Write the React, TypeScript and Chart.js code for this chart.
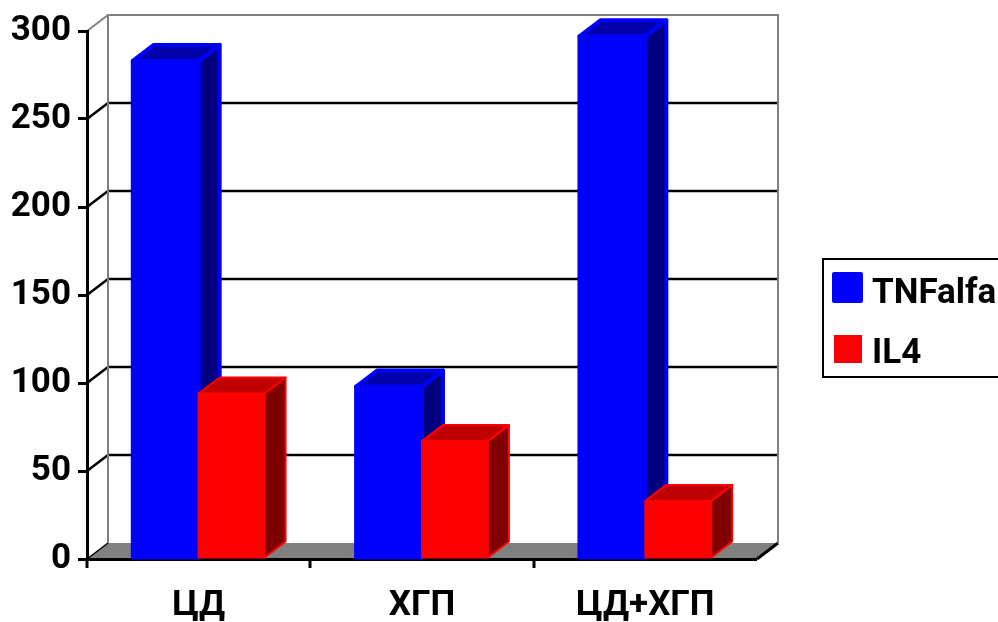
import React, { useEffect, useRef } from 'react';
import { Chart, registerables } from 'chart.js';

Chart.register(...registerables);

const categories = ['ЦД', 'ХГП', 'ЦД+ХГП'];
const tnfAlfa = [283, 98, 297];
const il4 = [94, 67, 33];
const seriesNames = ['TNFalfa', 'IL4'];
const yMin = 0;
const yMax = 300;
const yStep = 50;

const FONT_FAMILY = 'Roboto';
const DX = 21;
const DY = -16;
const TICK_LEN = 9;

const seriesStyles = [
  { front: '#0000FF', top: '#0000AA', side: '#000080', stroke: '#0000FF', strokeWidth: 4 },
  { front: '#FF0000', top: '#C00000', side: '#800000', stroke: '#FF0000', strokeWidth: 2 },
];

const threeDPlugin = {
  id: 'threeD',
  beforeDraw(chart: any) {
    const { ctx, chartArea: a, scales } = chart;
    const y = scales.y;
    const L = a.left, R = a.right, T = a.top, B = a.bottom;
    ctx.save();
    // back wall
    ctx.fillStyle = '#FFFFFF';
    ctx.fillRect(L + DX, T + DY, R - L, B - T);
    // floor
    ctx.beginPath();
    ctx.moveTo(L, B);
    ctx.lineTo(R, B);
    ctx.lineTo(R + DX, B + DY);
    ctx.lineTo(L + DX, B + DY);
    ctx.closePath();
    ctx.fillStyle = '#808080';
    ctx.fill();
    ctx.strokeStyle = '#000000';
    ctx.lineWidth = 1.5;
    ctx.beginPath();
    ctx.moveTo(L, B);
    ctx.lineTo(L + DX, B + DY);
    ctx.stroke();
    ctx.lineWidth = 3;
    ctx.beginPath();
    ctx.moveTo(R, B);
    ctx.lineTo(R + DX, B + DY);
    ctx.stroke();
    // gridlines on the wall
    ctx.lineWidth = 2.5;
    ctx.strokeStyle = '#000000';
    y.ticks.forEach((t: any) => {
      if (t.value <= yMin || t.value >= yMax) return;
      const py = y.getPixelForValue(t.value);
      ctx.beginPath();
      ctx.moveTo(L, py);
      ctx.lineTo(L + DX, py + DY);
      ctx.lineTo(R + DX, py + DY);
      ctx.stroke();
    });
    // wall edges
    ctx.strokeStyle = '#808080';
    ctx.lineWidth = 2;
    ctx.beginPath();
    ctx.moveTo(L + DX, B + DY);
    ctx.lineTo(L + DX, T + DY);
    ctx.lineTo(R + DX, T + DY);
    ctx.lineTo(R + DX, B + DY);
    ctx.moveTo(L, T);
    ctx.lineTo(L + DX, T + DY);
    ctx.stroke();
    ctx.restore();
  },
  beforeDatasetsDraw(chart: any) {
    // category boundary tick marks below the x axis (none at the far right end)
    const { ctx, chartArea: a, scales } = chart;
    const x = scales.x;
    const n = categories.length;
    const step = (x.getPixelForValue(n - 1) - x.getPixelForValue(0)) / (n - 1);
    ctx.save();
    ctx.strokeStyle = '#000000';
    ctx.lineWidth = 3;
    ctx.beginPath();
    for (let i = 0; i < n; i++) {
      const px = Math.round(x.getPixelForValue(i) - step / 2);
      ctx.moveTo(px, a.bottom);
      ctx.lineTo(px, a.bottom + TICK_LEN);
    }
    ctx.stroke();
    ctx.restore();
  },
  afterDatasetsDraw(chart: any) {
    const { ctx } = chart;
    const metas = chart.data.datasets.map((_: any, i: number) => chart.getDatasetMeta(i));
    ctx.save();
    ctx.lineJoin = 'round';
    for (let c = 0; c < categories.length; c++) {
      metas.forEach((meta: any, d: number) => {
        const el = meta.data[c];
        if (!el) return;
        const st = seriesStyles[d];
        const l = el.x - el.width / 2;
        const r = el.x + el.width / 2;
        const top = el.y;
        const base = el.base;
        ctx.lineWidth = st.strokeWidth;
        ctx.strokeStyle = st.stroke;
        // front
        ctx.beginPath();
        ctx.rect(l, top, r - l, base - top);
        ctx.fillStyle = st.front;
        ctx.fill();
        ctx.stroke();
        // side
        ctx.beginPath();
        ctx.moveTo(r, top);
        ctx.lineTo(r + DX, top + DY);
        ctx.lineTo(r + DX, base + DY);
        ctx.lineTo(r, base);
        ctx.closePath();
        ctx.fillStyle = st.side;
        ctx.fill();
        ctx.stroke();
        // top
        ctx.beginPath();
        ctx.moveTo(l, top);
        ctx.lineTo(l + DX, top + DY);
        ctx.lineTo(r + DX, top + DY);
        ctx.lineTo(r, top);
        ctx.closePath();
        ctx.fillStyle = st.top;
        ctx.fill();
        ctx.stroke();
      });
    }
    ctx.restore();
  },
  afterDraw(chart: any) {
    const { ctx } = chart;
    ctx.save();
    ctx.strokeStyle = '#000000';
    ctx.lineWidth = 2;
    ctx.strokeRect(823, 259, 190, 118);
    // swatch 1
    ctx.lineJoin = 'round';
    ctx.fillStyle = seriesStyles[0].front;
    ctx.strokeStyle = seriesStyles[0].stroke;
    ctx.lineWidth = 4;
    ctx.beginPath();
    ctx.rect(834, 274, 27, 27);
    ctx.fill();
    ctx.stroke();
    // swatch 2
    ctx.fillStyle = seriesStyles[1].front;
    ctx.fillRect(834, 335, 28, 28);
    ctx.fillStyle = '#000000';
    ctx.font = `bold 35px ${FONT_FAMILY}`;
    ctx.textBaseline = 'alphabetic';
    ctx.textAlign = 'left';
    ctx.fillText(chart.data.datasets[0].label, 872, 303);
    ctx.fillText(chart.data.datasets[1].label, 872, 363);
    ctx.restore();
  },
};

export default function App() {
  const canvasRef = useRef<HTMLCanvasElement | null>(null);

  useEffect(() => {
    if (!canvasRef.current) return;
    const tickFont = { family: FONT_FAMILY, size: 35, weight: 'bold' as const };
    const chart = new Chart(canvasRef.current, {
      type: 'bar',
      data: {
        labels: categories,
        datasets: [
          {
            label: seriesNames[0],
            data: tnfAlfa,
            backgroundColor: 'rgba(0,0,0,0)',
            borderWidth: 0,
            barPercentage: 1,
            categoryPercentage: 0.59,
          },
          {
            label: seriesNames[1],
            data: il4,
            backgroundColor: 'rgba(0,0,0,0)',
            borderWidth: 0,
            barPercentage: 1,
            categoryPercentage: 0.59,
          },
        ],
      },
      options: {
        responsive: false,
        animation: false,
        layout: { padding: { left: 0, top: 31, right: 241, bottom: 0 } },
        plugins: {
          legend: { display: false },
          tooltip: { enabled: false },
        },
        scales: {
          x: {
            grid: {
              offset: true,
              drawOnChartArea: false,
              tickLength: TICK_LEN,
              lineWidth: 0,
              color: 'rgba(0,0,0,0)',
              tickColor: 'rgba(0,0,0,0)',
            },
            border: { color: '#000000', width: 3 },
            ticks: { font: tickFont, color: '#000000', padding: 17 },
            afterFit: (s: any) => {
              s.height = 63;
            },
          },
          y: {
            min: yMin,
            max: yMax,
            grid: { drawOnChartArea: false, tickLength: TICK_LEN, lineWidth: 3, color: '#000000' },
            border: { color: '#000000', width: 3 },
            ticks: { stepSize: yStep, font: tickFont, color: '#000000', padding: 7 },
            afterFit: (s: any) => {
              s.width = 87;
            },
          },
        },
      },
      plugins: [threeDPlugin],
    });
    return () => chart.destroy();
  }, []);

  return (
    <div style={{ position: 'fixed', left: 0, top: 0, width: 998, height: 622, background: '#fff' }}>
      <canvas ref={canvasRef} width={998} height={622} style={{ display: 'block' }} />
    </div>
  );
}
